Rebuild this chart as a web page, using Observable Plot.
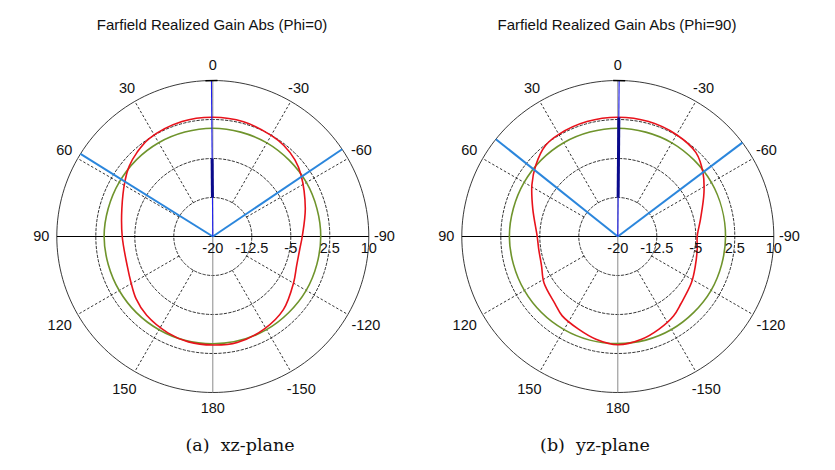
<!DOCTYPE html>
<html><head><meta charset="utf-8">
<script src="https://cdn.jsdelivr.net/npm/d3@7"></script>
<script src="https://cdn.jsdelivr.net/npm/@observablehq/plot@0.6"></script>
<style>
body{margin:0;background:#fff;width:835px;height:470px;position:relative;overflow:hidden;font-family:"Liberation Sans",Arial,sans-serif}
.panel{position:absolute;top:0;width:424px;height:470px}
.title{position:absolute;top:17px;left:0;width:424px;text-align:center;font-size:15px;line-height:15px;color:#111;white-space:nowrap}
.chart{position:absolute;top:50px;left:0}
.cap{position:absolute;top:437px;font-family:"DejaVu Serif","Liberation Serif",serif;font-size:17.5px;line-height:17.5px;white-space:pre;transform:translateX(-50%);color:#111}
</style></head><body>
<div class="panel" id="p0" style="left:0"><div class="title">Farfield Realized Gain Abs (Phi=0)</div><div class="chart"></div></div>
<div class="panel" id="p1" style="left:405px"><div class="title">Farfield Realized Gain Abs (Phi=90)</div><div class="chart"></div></div>
<div class="cap" style="left:240px">(a)  xz-plane</div>
<div class="cap" style="left:595px">(b)  yz-plane</div>
<script>
// ---- data ----
const angleTicks = [0, 30, 60, 90, 120, 150, 180, -150, -120, -90, -60, -30];
const angleLabels = ["0", "30", "60", "90", "120", "150", "180", "-150", "-120", "-90", "-60", "-30"];
const radialTicks = [-20, -12.5, -5, 2.5, 10];
const radialLabels = ["-20", "-12.5", "-5", "2.5", "10"];

// Phi=0 (xz-plane) realized gain, dB
const thetaXZ = [-167, -151, -136, -120, -109, -98, -90, -73, -55, -47, -38, -30, -15, 0, 15, 33, 42, 50, 58, 73, 90, 109, 119, 129, 140, 155, 167, 180];
const gainXZ  = [0.92, 0.35, -0.46, -2.08, -2.94, -3.1, -2.8, -1.4, 0.7, 1.6, 2.2, 2.45, 2.85, 2.94, 2.9, 2.46, 1.77, 1.0, -0.06, -1.71, -2.58, -2.6, -1.98, -1.0, -0.21, 0.44, 0.8, 0.87];
// Phi=90 (yz-plane) realized gain, dB
const thetaYZ = [-167, -156, -145, -137, -122, -111, -99, -90, -78, -63, -53, -43, -30, -15, 0, 15, 30, 38.5, 49, 59, 72, 90, 99, 111, 122, 137, 145, 157, 168, 180];
const gainYZ  = [0.29, -0.5, -1.33, -2.25, -3.29, -4.04, -4.54, -4.73, -3.73, -1.4, 0.5, 2.04, 2.6, 2.88, 2.94, 2.88, 2.69, 2.35, 0.9, -0.73, -2.81, -4.5, -4.6, -4.29, -3.25, -2.31, -1.37, -0.65, 0.19, 0.83];
// reference curve (green)
const thetaRef = [0, 30, 60, 90, 120, 150, 180, 210, 240, 270, 300, 330];
const refXZ = [0.83, 0.82, 0.8, 0.9, 0.78, 0.7, 0.62, 0.68, 0.74, 0.76, 0.78, 0.8];
const refYZ = [0.83, 0.82, 0.8, 0.85, 0.75, 0.68, 0.6, 0.66, 0.72, 0.72, 0.78, 0.8];
// main lobe direction and 3 dB beam edges
const mainXZ = 0.5, mainYZ = -0.5;
const mainBarXZ = [-12.5, -5.0], mainBarYZ = [-12.5, 2.9];
const beamXZ = [58, -56], beamYZ = [51.4, -53];

const RMIN = -20, RMAX = 10;
const rad = t => t * Math.PI / 180;
const px = (t, v) => -(v - RMIN) * Math.sin(rad(t));
const py = (t, v) => (v - RMIN) * Math.cos(rad(t));

function chart(thetas, gains, ref, main, mainBar, beams) {
  const red = thetas.map((t, i) => ({t, v: gains[i]}));
  const green = thetaRef.map((t, i) => ({t, v: ref[i]}));
  const ringPts = radialTicks.slice(1).flatMap(v => d3.range(0, 361, 2).map(t => ({t, v})));
  const spokes = angleTicks.filter(a => a % 90 !== 0);
  const lbl = angleTicks.map((t, i) => ({t, s: angleLabels[i]}));
  const rlbl = radialTicks.map((v, i) => ({v, s: radialLabels[i]}));
  const LR = t => (Math.abs(t) > 90 && Math.abs(t) < 180) ? 14 : 13; // label ring, dB units beyond outer ring
  return Plot.plot({
    width: 424, height: 380,
    x: {domain: [-30, 30], range: [212.3 - 156, 212.3 + 156], axis: null},
    y: {domain: [-30, 30], range: [186 + 156, 186 - 156], axis: null},
    style: {fontFamily: "Liberation Sans, Arial, sans-serif", fontSize: "14.5px", background: "transparent", color: "#111"},
    marks: [
      Plot.line(ringPts.filter(d => d.v < RMAX), {x: d => px(d.t, d.v), y: d => py(d.t, d.v), z: "v", stroke: "#000", strokeWidth: 0.8, strokeDasharray: "2.5,2"}),
      Plot.line(ringPts.filter(d => d.v === RMAX), {x: d => px(d.t, d.v), y: d => py(d.t, d.v), stroke: "#222", strokeWidth: 0.9}),
      Plot.link(spokes, {x1: t => px(t, -12.5), y1: t => py(t, -12.5), x2: t => px(t, RMAX), y2: t => py(t, RMAX), stroke: "#000", strokeWidth: 0.8, strokeDasharray: "2.5,2"}),
      Plot.link([0], {x1: () => px(90, RMAX), y1: () => py(90, RMAX), x2: () => px(-90, RMAX), y2: () => py(-90, RMAX), stroke: "#000", strokeWidth: 1.1}),
      Plot.link([0], {x1: () => px(0, RMAX), y1: () => py(0, RMAX), x2: () => px(180, RMAX), y2: () => py(180, RMAX), stroke: "#8a8a8a", strokeWidth: 1}),
      Plot.line(green, {x: d => px(d.t, d.v), y: d => py(d.t, d.v), curve: "catmull-rom-closed", stroke: "#6f942c", strokeWidth: 1.6}),
      Plot.line(red, {x: d => px(d.t, d.v), y: d => py(d.t, d.v), curve: "catmull-rom-closed", stroke: "#e8121b", strokeWidth: 1.6}),
      Plot.link(beams, {x1: () => 0, y1: () => 0, x2: t => px(t, RMAX), y2: t => py(t, RMAX), stroke: "#2b86dc", strokeWidth: 2}),
      Plot.link([main], {x1: t => px(t, RMIN), y1: t => py(t, RMIN), x2: t => px(t, RMAX), y2: t => py(t, RMAX), stroke: "#1e1ef0", strokeWidth: 1.1}),
      Plot.link([main], {x1: t => px(t, mainBar[0]), y1: t => py(t, mainBar[0]), x2: t => px(t, mainBar[1]), y2: t => py(t, mainBar[1]), stroke: "#0a0a8c", strokeWidth: 3}),
      Plot.link([main], {x1: t => px(t + 2.2, RMAX), y1: t => py(t + 2.2, RMAX), x2: t => px(t - 2.2, RMAX), y2: t => py(t - 2.2, RMAX), stroke: "#000", strokeWidth: 1.5}),
      Plot.text(lbl, {x: d => px(d.t, LR(d.t)), y: d => py(d.t, LR(d.t)), text: "s", fill: "#111"}),
      Plot.text(rlbl, {x: d => px(-90, d.v), y: () => 0, dy: 12, text: "s", fill: "#111"})
    ]
  });
}
document.querySelector("#p0 .chart").append(chart(thetaXZ, gainXZ, refXZ, mainXZ, mainBarXZ, beamXZ));
document.querySelector("#p1 .chart").append(chart(thetaYZ, gainYZ, refYZ, mainYZ, mainBarYZ, beamYZ));
</script>
</body></html>
